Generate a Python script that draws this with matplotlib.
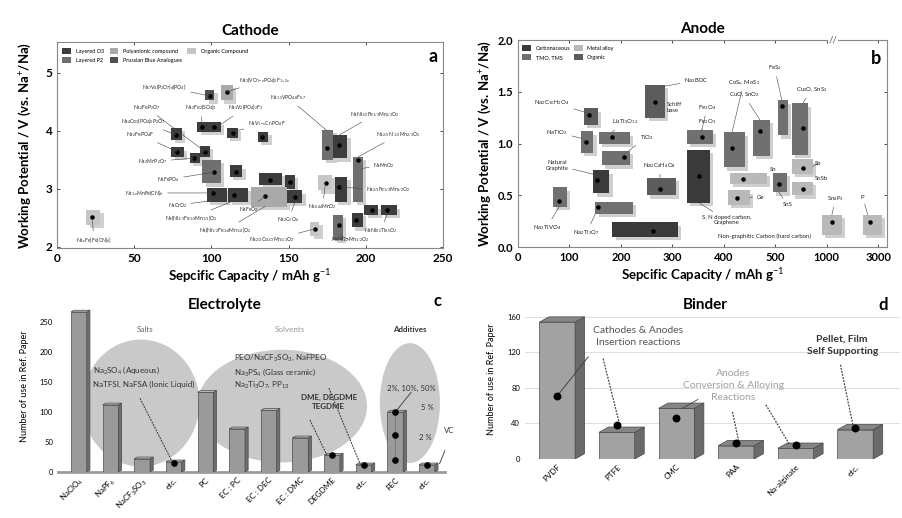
import numpy as np
import matplotlib
matplotlib.use('Agg')
import matplotlib.pyplot as plt
import matplotlib.patheffects as pe
from matplotlib.patches import Rectangle, Ellipse, Polygon, Patch

plt.rcParams['font.family'] = ['Lato', 'DejaVu Sans']
plt.rcParams['mathtext.fontset'] = 'custom'
plt.rcParams['mathtext.rm'] = 'Lato'
plt.rcParams['mathtext.it'] = 'Lato:italic'
plt.rcParams['mathtext.bf'] = 'Lato:bold'
plt.rcParams['mathtext.default'] = 'rm'

# ---------------- cathode data (capacity range, potential range, marker) -----
cat_x0 = [96, 106, 91, 98, 110, 74, 130, 172, 179, 74, 86, 93, 94, 112, 131,
          148, 97, 111, 126, 149, 169, 180, 192, 199, 210, 179, 191, 164, 19]
cat_x1 = [102, 114, 98, 106, 117, 81, 137, 179, 188, 82, 93, 99, 106, 120, 146,
          154, 110, 124, 149, 159, 178, 188, 198, 208, 220, 185, 198, 170, 28]
cat_y0 = [4.53, 4.53, 3.98, 3.98, 3.88, 3.85, 3.81, 3.50, 3.53, 3.55, 3.45, 3.55,
          3.10, 3.21, 3.07, 3.00, 2.78, 2.78, 2.69, 2.76, 2.98, 2.78, 2.78, 2.55,
          2.55, 2.12, 2.34, 2.19, 2.38]
cat_y1 = [4.71, 4.79, 4.16, 4.16, 4.05, 4.05, 3.98, 4.02, 3.93, 3.72, 3.62, 3.74,
          3.50, 3.41, 3.28, 3.24, 3.02, 3.02, 3.03, 2.98, 3.24, 3.21, 3.55, 2.72,
          2.72, 2.55, 2.59, 2.43, 2.64]
cat_cx = [99, 110, 94, 102, 114, 77, 133, 175, 183, 78, 89, 96, 102, 116, 138,
          151, 101, 115, 135, 154, 174, 183, 195, 204, 214, 183, 194, 167, 23]
cat_cy = [4.60, 4.67, 4.07, 4.07, 3.97, 3.93, 3.90, 3.71, 3.76, 3.64, 3.53, 3.64,
          3.29, 3.29, 3.16, 3.12, 2.93, 2.90, 2.88, 2.86, 3.10, 3.03, 3.50, 2.64,
          2.64, 2.38, 2.47, 2.31, 2.52]
cat_kind = ['PBA', 'poly', 'O3', 'O3', 'O3', 'O3', 'O3', 'P2', 'O3', 'O3', 'O3',
            'O3', 'P2', 'O3', 'O3', 'O3', 'O3', 'O3', 'poly', 'O3', 'org', 'O3',
            'P2', 'O3', 'O3', 'P2', 'O3', 'org', 'org']

cat_lab = ['Na$_7$V$_4$(P$_2$O$_7$)$_4$(PO$_4$)', 'Na$_3$(VO$_{1-x}$PO$_4$)$_2$F$_{1+2x}$',
           'Na$_{1.5}$VPO$_{4.8}$F$_{0.7}$', 'Na$_2$FeP$_2$O$_7$', 'Na$_2$Fe$_2$(SO$_4$)$_3$',
           'Na$_3$V$_2$(PO$_4$)$_2$F$_3$', 'Na$_4$Co$_3$(PO$_4$)$_2$P$_2$O$_7$', 'Na$_2$FePO$_4$F',
           'NaV$_{1-x}$Cr$_x$PO$_4$F', 'NaNi$_{1/3}$Fe$_{1/3}$Mn$_{1/3}$O$_2$',
           'Na$_{2/3}$Ni$_{1/3}$Mn$_{2/3}$O$_2$', 'Na$_2$MnP$_2$O$_7$', 'NaFePO$_4$',
           'Na$_{1.x}$MnFe(CN)$_6$', 'NaCrO$_2$', 'Na(Ni$_{1/3}$Fe$_{1/3}$Mn$_{1/3}$)O$_2$',
           'Na(Ni$_{1/2}$Fe$_{1/4}$Mn$_{1/4}$)O$_2$', 'NaFeO$_2$', 'Na$_2$C$_6$O$_6$',
           'Na$_{2/3}$Co$_{2/3}$Mn$_{1/3}$O$_2$', 'Na$_{0.44}$MnO$_2$', 'NaMnO$_2$',
           'Na$_{2/3}$Fe$_{1/2}$Mn$_{1/2}$O$_2$', 'NaNi$_{0.5}$Ti$_{0.5}$O$_2$',
           'NaNi$_{1/2}$Mn$_{1/2}$O$_2$', 'Na$_x$Fe[Fe(CN)$_6$]']
cat_lx = [84, 118, 138, 58, 93, 122, 70, 63, 136, 206, 221, 62, 72, 69, 78, 87,
          109, 124, 150, 139, 172, 205, 200, 199, 190, 24]
cat_ly = [4.76, 4.88, 4.57, 4.40, 4.40, 4.40, 4.16, 3.93, 4.12, 4.28, 3.93, 3.47,
          3.16, 2.93, 2.72, 2.50, 2.29, 2.64, 2.47, 2.12, 2.69, 3.41, 2.98, 2.29,
          2.12, 2.12]
cat_lha = ['right', 'left', 'left', 'center', 'center', 'center', 'right', 'right',
           'center', 'center', 'center', 'center', 'center', 'right', 'center',
           'center', 'center', 'center', 'center', 'center', 'center', 'left',
           'left', 'left', 'center', 'center']
cat_tx = [99, 110, 175, 96, 94, 104, 77, 78, 114, 183, 195, 89, 102, 101, 101,
          115, 135, 135, 154, 167, 174, 197, 183, 214, 183, 23]
cat_ty = [4.60, 4.67, 4.00, 3.64, 4.14, 4.07, 3.93, 3.64, 3.99, 3.93, 3.55, 3.53,
          3.29, 2.93, 2.80, 2.80, 2.70, 2.88, 2.76, 2.31, 3.10, 3.35, 3.03, 2.58,
          2.20, 2.45]

cat_colors = {'O3': '#3d3d3d', 'P2': '#6f6f6f', 'poly': '#a9a9a9',
              'org': '#c6c6c6', 'PBA': '#505050'}
cat_names = {'O3': 'Layered O3', 'P2': 'Layered P2', 'poly': 'Polyanionic compound',
             'PBA': 'Prussian Blue Analogues', 'org': 'Organic Compound'}

# ---------------- anode data -------------------------------------------------
an_x0 = [128, 122, 157, 163, 146, 250, 68, 150, 183, 247, 328, 328, 400, 456,
         525, 660, 412, 408, 495, 660, 660, 950, 2400]
an_x1 = [155, 146, 217, 217, 177, 307, 95, 223, 311, 285, 379, 373, 441, 489,
         620, 815, 483, 450, 612, 865, 865, 1580, 3140]
an_y0 = [1.18, 0.91, 1.00, 0.79, 0.52, 0.50, 0.39, 0.32, 0.10, 1.25, 1.00, 0.43,
         0.77, 0.88, 1.08, 0.89, 0.61, 0.41, 0.53, 0.71, 0.50, 0.12, 0.12]
an_y1 = [1.34, 1.12, 1.11, 0.93, 0.74, 0.67, 0.58, 0.44, 0.24, 1.57, 1.13, 0.94,
         1.11, 1.23, 1.42, 1.39, 0.72, 0.55, 0.72, 0.85, 0.63, 0.31, 0.31]
an_cx = [138, 132, 183, 206, 153, 276, 80, 155, 262, 266, 357, 351, 416, 470,
         563, 766, 437, 425, 534, 766, 766, 1200, 2700]
an_cy = [1.28, 1.02, 1.06, 0.87, 0.65, 0.56, 0.45, 0.39, 0.16, 1.40, 1.06, 0.69,
         0.96, 1.12, 1.36, 1.15, 0.66, 0.47, 0.61, 0.76, 0.56, 0.24, 0.24]
an_kind = ['org', 'tmo', 'tmo', 'tmo', 'carb', 'org', 'tmo', 'tmo', 'carb', 'org',
           'tmo', 'carb', 'tmo', 'tmo', 'tmo', 'tmo', 'alloy', 'alloy', 'tmo',
           'alloy', 'alloy', 'alloy', 'alloy']
an_colors = {'carb': '#3a3a3a', 'alloy': '#b9b9b9', 'tmo': '#707070', 'org': '#5c5c5c'}
an_names = {'carb': 'Carbonaceous', 'alloy': 'Metal alloy', 'tmo': 'TMO, TMS',
            'org': 'Organic'}

an_lab = ['Na$_2$C$_{10}$H$_2$O$_4$', 'NaTiO$_2$', 'Li$_4$Ti$_5$O$_{12}$', 'TiO$_2$',
          'Natural\nGraphite', 'Na$_2$C$_8$H$_4$O$_4$', 'Na$_3$TiVO$_4$',
          'Na$_2$Ti$_3$O$_7$', 'Na$_2$BDC', 'Schiff\nbase', 'Fe$_3$O$_4$',
          'Fe$_2$O$_3$', 'CoS$_x$, MoS$_2$', 'CuO, SnO$_2$', 'FeS$_2$',
          'Cu$_2$O, SnS$_2$', 'Sn', 'Ge', 'SnS', 'Sb', 'SnSb', 'Sn$_4$P$_3$', 'P',
          'S, N doped carbon,\nGraphene', 'Non-graphitic Carbon (hard carbon)']
an_lx = [66, 97, 208, 250, 76, 276, 56, 134, 347, 289, 350, 350, 439, 439, 499,
         855, 490, 464, 620, 885, 885, 1340, 2400, 406, 480]
an_ly = [1.40, 1.11, 1.21, 1.06, 0.79, 0.79, 0.19, 0.14, 1.61, 1.35, 1.35, 1.21,
         1.59, 1.47, 1.73, 1.52, 0.75, 0.48, 0.41, 0.81, 0.66, 0.47, 0.48, 0.26,
         0.10]
an_lha = ['center', 'right', 'center', 'center', 'center', 'center', 'center',
          'center', 'center', 'left', 'left', 'left', 'center', 'center', 'center',
          'center', 'left', 'left', 'center', 'left', 'left', 'center', 'center',
          'center', 'center']
an_tx = [132, 124, 183, 215, 150, 276, 80, 150, 280, None, 357, 357, 416, 470,
         563, 766, None, 450, 534, 865, 865, 1200, 2600, 351, None]
an_ty = [1.30, 1.05, 1.11, 0.93, 0.70, 0.67, 0.39, 0.32, 1.55, None, 1.13, 1.13,
         1.11, 1.23, 1.42, 1.39, None, 0.48, 0.53, 0.78, 0.60, 0.31, 0.31, 0.43,
         None]

CAP_KNOTS = [0, 500, 1000, 3000, 5000]
POS_KNOTS = [0, 5, 6, 7, 8]

# ---------------- electrolyte / binder data ----------------------------------
ele_names = ['NaClO$_4$', 'NaPF$_6$', 'NaCF$_3$SO$_3$', 'etc.', 'PC', 'EC : PC',
             'EC : DEC', 'EC : DMC', 'DEGDME', 'etc.', 'FEC', 'etc.']
ele_vals = [267, 112, 22, 17, 133, 72, 103, 57, 28, 12, 100, 12]
fec_dots = [100, 62, 20]

bin_names = ['PVDF', 'PTFE', 'CMC', 'PAA', 'Na-alginate', 'etc.']
bin_vals = [154, 30, 57, 15, 12, 33]
bin_dots = [71, 38, 46, 18, 16, 35]


def draw_box(ax, x0, x1, y0, y1, color):
    r = Rectangle((x0, y0), x1 - x0, y1 - y0, facecolor=color, edgecolor='none',
                  zorder=2)
    r.set_path_effects([pe.SimplePatchShadow(offset=(2.5, -2.5), shadow_rgbFace='#777777',
                                             alpha=0.35), pe.Normal()])
    ax.add_patch(r)


def bar3d(ax, x, h, w, dx, dy, face, side, top):
    ax.add_patch(Rectangle((x - w / 2, 0), w, h, fc=face, ec='#4a4a4a', lw=0.5, zorder=3))
    ax.add_patch(Polygon([(x + w / 2, 0), (x + w / 2 + dx, dy), (x + w / 2 + dx, h + dy),
                          (x + w / 2, h)], closed=True, fc=side, ec='#4a4a4a', lw=0.5,
                         zorder=3))
    ax.add_patch(Polygon([(x - w / 2, h), (x - w / 2 + dx, h + dy), (x + w / 2 + dx, h + dy),
                          (x + w / 2, h)], closed=True, fc=top, ec='#4a4a4a', lw=0.5,
                         zorder=3))


fig = plt.figure(figsize=(9.03, 5.18), dpi=100)

# ================= (a) Cathode ================================================
ax = fig.add_axes([0.063, 0.521, 0.4275, 0.398])
for x0, x1, y0, y1, k in zip(cat_x0, cat_x1, cat_y0, cat_y1, cat_kind):
    draw_box(ax, x0, x1, y0, y1, cat_colors[k])
ax.scatter(cat_cx, cat_cy, s=5, color='black', zorder=4)
for t, lx, ly, ha, tx, ty in zip(cat_lab, cat_lx, cat_ly, cat_lha, cat_tx, cat_ty):
    ax.annotate(t, xy=(tx, ty), xytext=(lx, ly), ha=ha, va='center', fontsize=3.6,
                color='#222222', zorder=5,
                arrowprops=dict(arrowstyle='-', lw=0.4, color='#444444',
                                shrinkA=1, shrinkB=0))
ax.set_xlim(0, 250)
ax.set_ylim(1.98, 5.53)
ax.set_xticks([0, 50, 100, 150, 200, 250])
ax.set_yticks([2, 3, 4, 5])
ax.tick_params(direction='in', top=True, right=True, labelsize=8.5, length=2.5,
               width=0.5)
for lab in ax.get_xticklabels() + ax.get_yticklabels():
    lab.set_fontweight('bold')
for s in ax.spines.values():
    s.set_color('#888888')
    s.set_linewidth(0.8)
ax.set_xlabel('Sepcific Capacity / mAh g$^{-1}$', fontsize=9.5, fontweight='bold',
              labelpad=2)
ax.set_ylabel('Working Potential / V (vs. Na$^{+}$/Na)', fontsize=9.5,
              fontweight='bold', labelpad=9)
ax.set_title('Cathode', fontsize=11, fontweight='bold', pad=5)
ax.text(0.985, 0.93, 'a', transform=ax.transAxes, ha='right', va='center',
        fontsize=13, fontweight='bold')
order = ['O3', 'P2', 'poly', 'PBA', 'org']
handles = [Patch(facecolor=cat_colors[k], edgecolor='none', label=cat_names[k])
           for k in order]
ax.legend(handles=handles, ncol=3, loc='upper left', fontsize=4, frameon=False,
          handlelength=1.6, handleheight=1.4, columnspacing=1.0,
          borderaxespad=0.6, labelspacing=0.5)

# ================= (b) Anode ==================================================
ax = fig.add_axes([0.5736, 0.523, 0.4086, 0.3996])
ax.set_xscale('function', functions=(lambda x: np.interp(x, CAP_KNOTS, POS_KNOTS),
                                     lambda p: np.interp(p, POS_KNOTS, CAP_KNOTS)))
for x0, x1, y0, y1, k in zip(an_x0, an_x1, an_y0, an_y1, an_kind):
    draw_box(ax, x0, x1, y0, y1, an_colors[k])
ax.scatter(an_cx, an_cy, s=5, color='black', zorder=4)
for t, lx, ly, ha, tx, ty in zip(an_lab, an_lx, an_ly, an_lha, an_tx, an_ty):
    if tx is None:
        ax.text(lx, ly, t, ha=ha, va='center', fontsize=4.3, color='#222222',
                zorder=5, linespacing=1.1)
    else:
        ax.annotate(t, xy=(tx, ty), xytext=(lx, ly), ha=ha, va='center',
                    fontsize=4.3, color='#222222', zorder=5, linespacing=1.1,
                    arrowprops=dict(arrowstyle='-', lw=0.4, color='#444444',
                                    shrinkA=1, shrinkB=0))
ax.set_xlim(0, 3340)
ax.set_ylim(0, 2.0)
ax.set_xticks([0, 100, 200, 300, 400, 500, 1000, 3000])
ax.set_xticklabels(['0', '100', '200', '300', '400', '500', '1000', '3000'])
ax.set_yticks([0.0, 0.5, 1.0, 1.5, 2.0])
ax.set_yticklabels(['0.0', '0.5', '1.0', '1.5', '2.0'])
ax.tick_params(direction='in', top=True, right=True, labelsize=8, length=2.5,
               width=0.5)
for lab in ax.get_xticklabels() + ax.get_yticklabels():
    lab.set_fontweight('bold')
for s in ax.spines.values():
    s.set_color('#888888')
    s.set_linewidth(0.8)
ax.text(0.854, 1.0, '//', transform=ax.transAxes, ha='center', va='center',
        fontsize=7, color='#555555', bbox=dict(fc='white', ec='none', pad=0.5))
ax.set_xlabel('Sepcific Capacity / mAh g$^{-1}$', fontsize=9.5, fontweight='bold',
              labelpad=2)
ax.set_ylabel('Working Potential / V (vs. Na$^{+}$/Na)', fontsize=9.5,
              fontweight='bold', labelpad=3)
ax.set_title('Anode', fontsize=11, fontweight='bold', pad=5)
ax.text(0.985, 0.91, 'b', transform=ax.transAxes, ha='right', va='center',
        fontsize=13, fontweight='bold')
order = ['carb', 'tmo', 'alloy', 'org']
handles = [Patch(facecolor=an_colors[k], edgecolor='none', label=an_names[k])
           for k in order]
ax.legend(handles=handles, ncol=2, loc='upper left', fontsize=4, frameon=False,
          handlelength=1.6, handleheight=1.4, columnspacing=0.6,
          borderaxespad=0.4, labelspacing=0.5)

# ================= (c) Electrolyte ============================================
ax = fig.add_axes([0.0642, 0.0888, 0.4286, 0.332])
xs = np.arange(len(ele_names))
ax.add_patch(Ellipse((1.96, 115), 3.7, 212, fc='#c9c9c9', ec='none', zorder=1))
ax.add_patch(Ellipse((6.42, 110), 5.37, 188, fc='#c9c9c9', ec='none', zorder=1))
ax.add_patch(Ellipse((10.46, 115), 1.9, 200, fc='#c9c9c9', ec='none', zorder=1))
for x, v in zip(xs, ele_vals):
    bar3d(ax, x, v, 0.5, 0.1, 3, '#9a9a9a', '#6e6e6e', '#bdbdbd')
ax.plot([xs[10]] * 3, fec_dots, color='#777777', lw=0.6, zorder=4)
ax.scatter([xs[10]] * 3, fec_dots, s=14, color='black', zorder=5)
ax.scatter([xs[3], xs[8], xs[9], xs[11]], [15, 28, 12, 12], s=14, color='black',
           zorder=5)
ax.text(2.08, 237, 'Salts', ha='center', va='center', fontsize=5.8, color='#666666')
ax.text(6.67, 237, 'Solvents', ha='center', va='center', fontsize=5.8, color='#9a9a9a')
ax.text(10.46, 237, 'Additives', ha='center', va='center', fontsize=5.8,
        fontweight='bold', color='#333333')
ax.text(0.44, 170, 'Na$_2$SO$_4$ (Aqueous)', ha='left', va='center', fontsize=5.8,
        color='#333333')
ax.text(0.44, 146, 'NaTFSI, NaFSA (Ionic Liquid)', ha='left', va='center',
        fontsize=5.8, color='#333333')
ax.text(4.9, 190, 'PEO/NaCF$_3$SO$_3$, NaFPEO', ha='left', va='center', fontsize=5.8,
        color='#333333')
ax.text(4.9, 167, 'Na$_3$PS$_4$ (Glass ceramic)', ha='left', va='center', fontsize=5.8,
        color='#333333')
ax.text(4.9, 145, 'Na$_2$Ti$_3$O$_7$, PP$_{13}$', ha='left', va='center', fontsize=5.8,
        color='#333333')
ax.text(7.9, 117, 'DME, DEGDME\nTEGDME', ha='center', va='center', fontsize=5.8,
        fontweight='bold', color='#333333', linespacing=1.4)
ax.text(10.5, 140, '2%, 10%, 50%', ha='center', va='center', fontsize=5.6,
        color='#333333')
ax.text(11.0, 107, '5 %', ha='center', va='center', fontsize=5.6, color='#333333')
ax.text(10.95, 58, '2 %', ha='center', va='center', fontsize=5.6, color='#333333')
ax.text(11.7, 70, 'VC', ha='center', va='center', fontsize=5.6, color='#333333')
ax.plot([1.93, 2.97], [123, 15], ls=(0, (2, 1)), color='#333333', lw=0.7, zorder=4)
ax.plot([7.9, 8.9], [140, 12], ls=(0, (2, 1)), color='#333333', lw=0.7, zorder=4)
ax.plot([7.3, 7.84], [87, 28], ls=(0, (2, 1)), color='#333333', lw=0.7, zorder=4)
ax.plot([11.7, 11.4], [53, 14], color='#333333', lw=0.6, zorder=4)
ax.plot([10.5, 10.0], [133, 100], color='#333333', lw=0.6, zorder=4)
ax.set_xlim(-0.66, 11.57)
ax.set_ylim(0, 287)
ax.set_xticks(xs)
ax.set_xticklabels(ele_names, rotation=45, ha='right', rotation_mode='anchor',
                   fontsize=5.8)
ax.set_yticks([0, 50, 100, 150, 200, 250])
ax.tick_params(axis='y', labelsize=5.5, length=0)
ax.tick_params(axis='x', length=0, pad=3)
for k in ['top', 'right', 'left']:
    ax.spines[k].set_visible(False)
ax.spines['bottom'].set_color('#9a9a9a')
ax.spines['bottom'].set_linewidth(2)
ax.set_ylabel('Number of use in Ref. Paper', fontsize=6.5, labelpad=8)
fig.text(0.249, 0.411, 'Electrolyte', ha='center', va='center', fontsize=11,
         fontweight='bold')
fig.text(0.485, 0.419, 'c', ha='center', va='center', fontsize=12, fontweight='bold')

# ================= (d) Binder =================================================
ax = fig.add_axes([0.5814, 0.1139, 0.4153, 0.307])
xb = np.arange(len(bin_names))
for yv in [0, 40, 80, 120, 160]:
    ax.axhline(yv, color='#dddddd', lw=0.7, zorder=0)
for x, v in zip(xb, bin_vals):
    bar3d(ax, x, v, 0.6, 0.16, 6, '#a2a2a2', '#6a6a6a', '#858585')
ax.scatter(xb, bin_dots, s=22, color='black', zorder=5)
ax.text(1.36, 138, 'Cathodes & Anodes\nInsertion reactions', ha='center',
        va='center', fontsize=7.5, color='#555555', linespacing=1.5)
ax.text(2.95, 83, 'Anodes\nConversion & Alloying\nReactions', ha='center',
        va='center', fontsize=7.5, color='#a0a0a0', linespacing=1.4)
ax.text(4.78, 128, 'Pellet, Film\nSelf Supporting', ha='center', va='center',
        fontsize=7.5, fontweight='bold', color='#333333', linespacing=1.5)
ax.plot([0.52, 0.0], [115, 71], color='#444444', lw=0.7, zorder=4)
ax.plot([0.77, 1.05], [113, 38], ls=(0, (1.5, 1)), color='#444444', lw=0.9, zorder=4)
ax.plot([2.36, 2.1], [67, 57], color='#444444', lw=0.6, zorder=4)
ax.plot([2.94, 3.05], [53, 18], ls=(0, (1.5, 1)), color='#444444', lw=0.9, zorder=4)
ax.plot([3.5, 3.9], [61, 16], ls=(0, (1.5, 1)), color='#444444', lw=0.9, zorder=4)
ax.plot([4.75, 4.97], [106, 35], ls=(0, (1.5, 1)), color='#444444', lw=0.9, zorder=4)
ax.set_xlim(-0.54, 5.75)
ax.set_ylim(0, 179)
ax.set_xticks(xb)
ax.set_xticklabels(bin_names, rotation=45, ha='right', rotation_mode='anchor',
                   fontsize=5.8)
ax.set_yticks([0, 40, 80, 120, 160])
ax.tick_params(axis='y', labelsize=5.5, length=0)
ax.tick_params(axis='x', length=0, pad=3)
for s in ax.spines.values():
    s.set_visible(False)
ax.set_ylabel('Number of use in Ref. Paper', fontsize=6.5, labelpad=8)
fig.text(0.781, 0.411, 'Binder', ha='center', va='center', fontsize=11,
         fontweight='bold')
fig.text(0.978, 0.411, 'd', ha='center', va='center', fontsize=12, fontweight='bold')

fig.savefig('out.png', dpi=100)
